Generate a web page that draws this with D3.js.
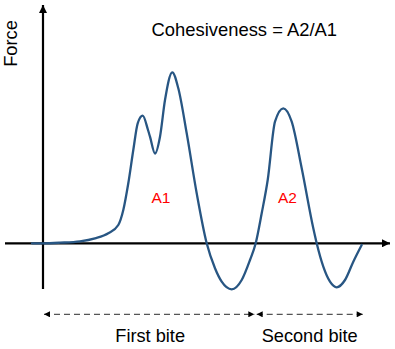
<!DOCTYPE html>
<html>
<head>
<meta charset="utf-8">
<script src="https://cdn.jsdelivr.net/npm/d3@7"></script>
<style>
  html, body { margin: 0; padding: 0; background: #fff; }
  svg { display: block; font-family: "Liberation Sans", Arial, sans-serif; }
</style>
</head>
<body>
<svg id="chart" width="395" height="349"></svg>
<script>
// ---- data ----
const time = [-1.1, 0, 1.7, 3.7, 5.2, 6.53, 7.53, 8.03, 8.53, 9.03, 9.47, 9.97, 10.5, 10.7, 11.2, 11.7, 12.2, 12.93, 13.53, 14.37, 15.37, 16.37, 17.2, 17.87, 18.87, 19.87, 20.7, 21.27, 21.87, 22.47, 23.2, 24.03, 24.87, 25.87, 27.03, 27.37, 28.03, 28.7, 29.37, 30.2, 31.03, 31.87];
const force = [0, 0, 0.06, 0.2, 0.5, 1.0, 1.83, 3.33, 6.0, 9.33, 12.0, 12.76, 11.33, 10.66, 8.98, 10.66, 14.33, 17.1, 15.5, 11.0, 5.0, 0, -2.5, -3.84, -4.6, -3.67, -1.67, 0, 3.0, 6.33, 12.16, 13.5, 12.16, 7.5, 1.5, 0, -2.34, -3.84, -4.4, -3.67, -1.84, -0.17];
const timeExtent = [-3.8, 34.7];
const forceExtent = [-4.57, 23.83];
const areaLabels = ["A1", "A2"];
const areaLabelTimes = [10.85, 23.5];
const areaLabelForces = [4.0, 4.06];
const biteLabels = ["First bite", "Second bite"];
const biteStarts = [0.1, 21.37];
const biteEnds = [21.13, 31.97];
const yAxisLabel = "Force";
const title = "Cohesiveness = A2/A1";

// ---- drawing ----
const svg = d3.select("#chart");
const x = d3.scaleLinear().domain(timeExtent).range([5, 390]);
const y = d3.scaleLinear().domain(forceExtent).range([289, 5]);

const defs = svg.append("defs");
defs.append("marker")
  .attr("id", "axisHead").attr("viewBox", "0 0 10 10")
  .attr("refX", 10).attr("refY", 5)
  .attr("markerWidth", 9).attr("markerHeight", 8)
  .attr("markerUnits", "userSpaceOnUse").attr("orient", "auto")
  .append("path").attr("d", "M0,0 L10,5 L0,10 Z").attr("fill", "#000");
defs.append("marker")
  .attr("id", "dashHead").attr("viewBox", "0 0 10 10")
  .attr("refX", 10).attr("refY", 5)
  .attr("markerWidth", 7).attr("markerHeight", 6)
  .attr("markerUnits", "userSpaceOnUse").attr("orient", "auto-start-reverse")
  .append("path").attr("d", "M0,0 L10,5 L0,10 Z").attr("fill", "#000");

// axes
svg.append("line")
  .attr("x1", x(timeExtent[0])).attr("x2", x(timeExtent[1]))
  .attr("y1", y(0)).attr("y2", y(0))
  .attr("stroke", "#000").attr("stroke-width", 2.2)
  .attr("marker-end", "url(#axisHead)");
svg.append("line")
  .attr("x1", x(0)).attr("x2", x(0))
  .attr("y1", y(forceExtent[0])).attr("y2", y(forceExtent[1]))
  .attr("stroke", "#000").attr("stroke-width", 2.2)
  .attr("marker-end", "url(#axisHead)");

// curve
const pts = time.map((t, i) => [t, force[i]]);
const line = d3.line().x(d => x(d[0])).y(d => y(d[1])).curve(d3.curveMonotoneX);
svg.append("path")
  .attr("d", line(pts))
  .attr("fill", "none")
  .attr("stroke", "#285683")
  .attr("stroke-width", 2.3)
  .attr("stroke-linecap", "round");

// labels
svg.append("text")
  .attr("transform", `translate(16.7,${43.5}) rotate(-90)`)
  .attr("text-anchor", "middle")
  .attr("font-size", 18.3).attr("fill", "#000")
  .text(yAxisLabel);
svg.append("text")
  .attr("x", 151.5).attr("y", 36)
  .attr("font-size", 18.4).attr("fill", "#000")
  .text(title);
svg.selectAll("text.area").data(areaLabels).join("text")
  .attr("class", "area")
  .attr("x", (d, i) => x(areaLabelTimes[i]))
  .attr("y", (d, i) => y(areaLabelForces[i]))
  .attr("font-size", 15.5).attr("fill", "#ff0000")
  .text(d => d);

// bite ranges
const dashY = 314.3;
biteLabels.forEach((lab, i) => {
  svg.append("line")
    .attr("x1", x(biteStarts[i])).attr("x2", x(biteEnds[i]))
    .attr("y1", dashY).attr("y2", dashY)
    .attr("stroke", "#555").attr("stroke-width", 1.3)
    .attr("stroke-dasharray", "6,4")
    .attr("marker-start", "url(#dashHead)")
    .attr("marker-end", "url(#dashHead)");
  svg.append("text")
    .attr("x", (x(biteStarts[i]) + x(biteEnds[i])) / 2 + (i === 0 ? 1 : 0))
    .attr("y", 342)
    .attr("text-anchor", "middle")
    .attr("font-size", 18.2).attr("fill", "#000")
    .text(lab);
});
</script>
</body>
</html>
